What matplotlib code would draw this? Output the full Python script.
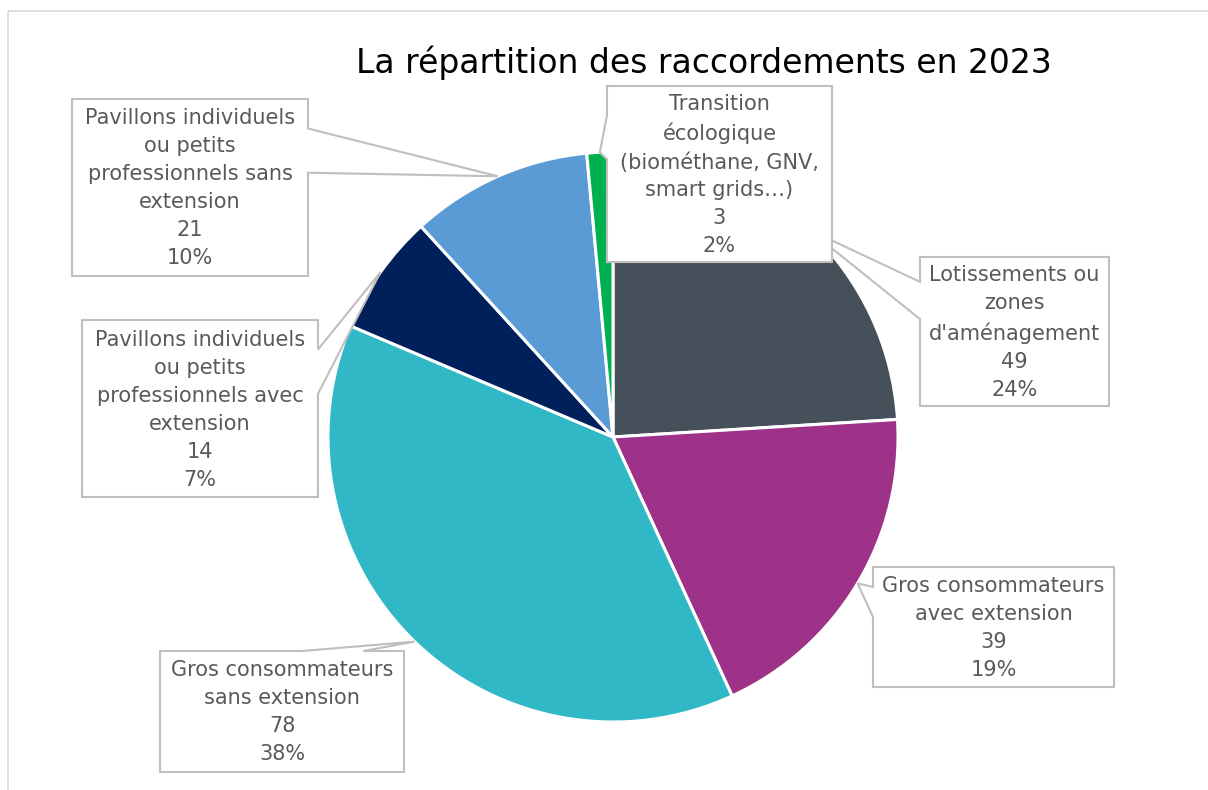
import numpy as np
import matplotlib
matplotlib.use("Agg")
import matplotlib.pyplot as plt
from matplotlib.patches import Polygon, Rectangle

# ---- data ----
categories = [
    "Lotissements ou\nzones\nd'aménagement",
    "Gros consommateurs\navec extension",
    "Gros consommateurs\nsans extension",
    "Pavillons individuels\nou petits\nprofessionnels avec\nextension",
    "Pavillons individuels\nou petits\nprofessionnels sans\nextension",
    "Transition\nécologique\n(biométhane, GNV,\nsmart grids…)",
]
values = [49, 39, 78, 14, 21, 3]
percents = [24, 19, 38, 7, 10, 2]
colors = ["#46505A", "#9E3188", "#31B8C7", "#00205C", "#5B9BD5", "#00B050"]
title = "La répartition des raccordements en 2023"

# ---- layout (pixels, origin top-left) ----
W, H = 1208, 790
center = (613, 437)
R = 285
boxes = [  # x0, y0, x1, y1, side of pointer
    (920, 257, 1109, 406, "left"),
    (873, 567, 1114, 687, "left"),
    (160, 651, 404, 772, "top"),
    (82, 320, 318, 497, "right"),
    (72, 99, 308, 276, "right"),
    (607, 86, 832, 262, "left"),
]
draw_order = [0, 1, 2, 3, 4, 5]

fig = plt.figure(figsize=(W / 100, H / 100), dpi=100)
fig.patch.set_facecolor("white")

ax_p = fig.add_axes([(center[0] - R) / W, (H - center[1] - R) / H, 2 * R / W, 2 * R / H])
wedges, _ = ax_p.pie(values, colors=colors, startangle=90, counterclock=False,
                     radius=1.0,
                     wedgeprops=dict(edgecolor="white", linewidth=2.2))
ax_p.set_xlim(-1, 1)
ax_p.set_ylim(-1, 1)
ax_p.set_aspect("equal")
ax_p.axis("off")

ax_o = fig.add_axes([0, 0, 1, 1], zorder=5)
ax_o.set_xlim(0, W)
ax_o.set_ylim(H, 0)
ax_o.axis("off")

# outer chart frame
ax_o.add_patch(Rectangle((8, 11), W + 20, H + 20, fill=False,
                         edgecolor="#D9D9D9", linewidth=1.2))

ax_o.text(704, 63, title, ha="center", va="center", fontsize=23.8,
          color="black", family="DejaVu Sans")

edge_col = "#BFBFBF"
txt_col = "#595959"
inv = ax_o.transData.inverted()
for k, i in enumerate(draw_order):
    w = wedges[i]
    mid = np.deg2rad((w.theta1 + w.theta2) / 2)
    disp = ax_p.transData.transform((np.cos(mid), np.sin(mid)))
    tip = inv.transform(disp)
    x0, y0, x1, y1, side = boxes[i]
    bw, bh = x1 - x0, y1 - y0
    if side == "right":
        pts = [(x0, y0), (x1, y0), (x1, y0 + bh * 2 / 12), tuple(tip),
               (x1, y0 + bh * 5 / 12), (x1, y1), (x0, y1)]
    elif side == "left":
        pts = [(x0, y0), (x1, y0), (x1, y1), (x0, y1),
               (x0, y0 + bh * 5 / 12), tuple(tip), (x0, y0 + bh * 2 / 12)]
    else:  # top
        pts = [(x0, y0), (x0 + bw * 7 / 12, y0), tuple(tip),
               (x0 + bw * 10 / 12, y0), (x1, y0), (x1, y1), (x0, y1)]
    ax_o.add_patch(Polygon(pts, closed=True, facecolor="white",
                           edgecolor=edge_col, linewidth=1.5, zorder=10 + 2 * k))
    label = f"{categories[i]}\n{values[i]}\n{percents[i]}%"
    ax_o.text((x0 + x1) / 2, (y0 + y1) / 2 + 1, label, ha="center", va="center",
              fontsize=15, color=txt_col, linespacing=1.5,
              family="DejaVu Sans", zorder=11 + 2 * k)

fig.savefig("out.png", dpi=100, facecolor="white")
